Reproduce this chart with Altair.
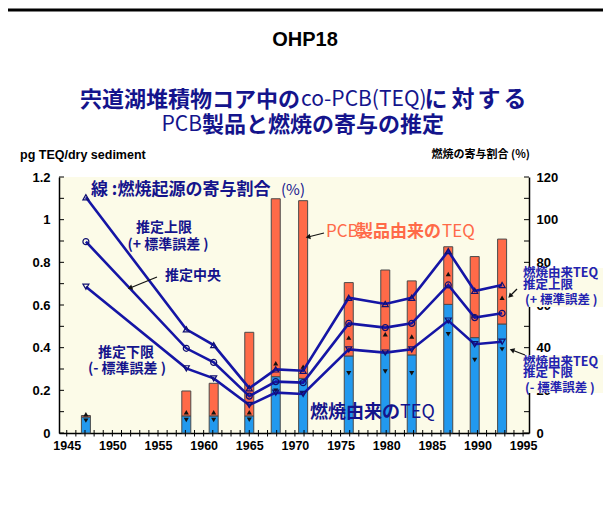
import altair as alt
import pandas as pd

# ---------------- data ----------------
years = [1947.1, 1958.1, 1961.1, 1965.0, 1967.9, 1970.9, 1975.9, 1979.9, 1982.8, 1986.8, 1989.7, 1992.7]
total_teq = [0.082, 0.197, 0.233, 0.472, 1.098, 1.089, 0.705, 0.764, 0.713, 0.873, 0.827, 0.909]
comb_teq = [0.075, 0.080, 0.080, 0.080, 0.264, 0.256, 0.361, 0.377, 0.366, 0.603, 0.447, 0.511]
comb_hi = [0.088, 0.097, 0.097, 0.097, 0.327, 0.311, 0.447, 0.463, 0.452, 0.745, 0.549, 0.634]
comb_lo = [0.058, 0.061, 0.061, 0.062, 0.198, 0.183, 0.280, 0.288, 0.280, 0.463, 0.342, 0.392]
pct_upper = [110.5, 48.6, 41.2, 21.0, 29.8, 29.2, 63.4, 60.5, 63.4, 85.3, 66.6, 69.4]
pct_mid = [89.7, 39.7, 33.1, 17.3, 24.1, 23.6, 51.4, 49.4, 51.4, 69.4, 54.1, 56.1]
pct_lower = [68.6, 30.3, 25.6, 13.1, 18.9, 18.3, 39.2, 37.7, 39.2, 52.7, 41.6, 42.8]

x_labels = [1945, 1950, 1955, 1960, 1965, 1970, 1975, 1980, 1985, 1990, 1995]
year_ticks = list(range(1945, 1996))
left_labels = [0, 0.2, 0.4, 0.6, 0.8, 1.0, 1.2]
left_ticks = [0, 0.1, 0.2, 0.3, 0.4, 0.5, 0.6, 0.7, 0.8, 0.9, 1.0, 1.1, 1.2]
right_labels = [0, 20, 40, 60, 80, 100, 120]
right_ticks = [0, 10, 20, 30, 40, 50, 60, 70, 80, 90, 100, 110, 120]

# ---------------- styles ----------------
BLUE = "#2299EE"
RED = "#FF6A48"
BAR_EDGE = "#4a4a4a"
LINE = "#1515A5"
NAVY = "#14148C"
BOXTXT = "#2222B0"
PLOT_BG = "#FCFBE8"
JP = "Noto Sans CJK JP"
LAT = "Liberation Sans"

bars = pd.DataFrame({"year": years, "total": total_teq, "comb": comb_teq,
                     "hi": comb_hi, "lo": comb_lo, "zero": [0] * len(years)})
pct = pd.DataFrame({"year": years, "upper": pct_upper, "mid": pct_mid, "lower": pct_lower})
dummy = pd.DataFrame({"a": [0]})

xs = alt.Scale(domain=[1944.7, 1995.1], nice=False, zero=False)
ysL = alt.Scale(domain=[0, 1.2], nice=False)
ysR = alt.Scale(domain=[0, 120], nice=False)

xaxis = alt.Axis(values=x_labels, format="d", title=None, labelPadding=6, labelFontSize=12.5)
yaxisL = alt.Axis(values=left_labels, format="~g", title=None, labelPadding=9, orient="left")
yaxisR = alt.Axis(values=right_labels, format="d", title=None, labelPadding=7, orient="right")

X = alt.X("year:Q", scale=xs, axis=xaxis)

# ---------------- left (TEQ) group ----------------
blue_bar = alt.Chart(bars).mark_bar(size=9, color=BLUE, stroke=BAR_EDGE, strokeWidth=1).encode(
    x=X, y=alt.Y("zero:Q", scale=ysL, axis=yaxisL), y2="comb:Q")
red_bar = alt.Chart(bars).mark_bar(size=9, color=RED, stroke=BAR_EDGE, strokeWidth=1).encode(
    x=X, y=alt.Y("comb:Q", scale=ysL, axis=yaxisL), y2="total:Q")
hi_pts = alt.Chart(bars).mark_point(shape="triangle-up", filled=True, size=26, color="#111111", opacity=1).encode(
    x=X, y=alt.Y("hi:Q", scale=ysL, axis=yaxisL))
lo_pts = alt.Chart(bars).mark_point(shape="triangle-down", filled=True, size=26, color="#111111", opacity=1).encode(
    x=X, y=alt.Y("lo:Q", scale=ysL, axis=yaxisL))
lt = alt.Chart(pd.DataFrame({"v": left_ticks})).mark_rule(color="black", strokeWidth=1).encode(
    y=alt.Y("v:Q", scale=ysL, axis=yaxisL), x=alt.value(0), x2=alt.value(5))
left_group = alt.layer(blue_bar, red_bar, hi_pts, lo_pts, lt)

# ---------------- right (percentage) group ----------------
def pline(field, shape):
    ln = alt.Chart(pct).mark_line(color=LINE, strokeWidth=2.6).encode(
        x=X, y=alt.Y(f"{field}:Q", scale=ysR, axis=yaxisR))
    pt = alt.Chart(pct).mark_point(shape=shape, filled=False, size=36, stroke="#101070",
                                   strokeWidth=1.2, opacity=1).encode(
        x=X, y=alt.Y(f"{field}:Q", scale=ysR, axis=yaxisR))
    return [ln, pt]

rt = alt.Chart(pd.DataFrame({"v": right_ticks})).mark_rule(color="black", strokeWidth=1).encode(
    y=alt.Y("v:Q", scale=ysR, axis=yaxisR), x=alt.value(465), x2=alt.value(470))
right_group = alt.layer(*pline("upper", "triangle-up"), *pline("mid", "circle"),
                        *pline("lower", "triangle-down"), rt)

# ---------------- annotations ----------------
xt = alt.Chart(pd.DataFrame({"year": year_ticks})).mark_rule(color="black", strokeWidth=1).encode(
    x=X, y=alt.value(253), y2=alt.value(259.5))


def txt(s, x, y, size, color, weight="bold", align="left", font=JP):
    return alt.Chart(dummy).mark_text(text=s, fontSize=size, color=color, fontWeight=weight,
                                      align=align, baseline="middle", font=font).encode(
        x=alt.value(x), y=alt.value(y))


def box(x1, x2, y1, y2):
    return alt.Chart(dummy).mark_rect(color=PLOT_BG).encode(
        x=alt.value(x1), x2=alt.value(x2), y=alt.value(y1), y2=alt.value(y2))


def arrow(x1, y1, x2, y2, ang, color="#111111"):
    ln = alt.Chart(dummy).mark_rule(color=color, strokeWidth=1.2).encode(
        x=alt.value(x1), x2=alt.value(x2), y=alt.value(y1), y2=alt.value(y2))
    hd = alt.Chart(dummy).mark_point(shape="triangle-up", angle=ang, filled=True, size=30,
                                     color=color, opacity=1).encode(x=alt.value(x2), y=alt.value(y2))
    return [ln, hd]


topline = alt.Chart(dummy).mark_rule(color="black", strokeWidth=3).encode(
    x=alt.value(-60), x2=alt.value(560), y=alt.value(-167))

annots = [
    xt, topline,
    txt("OHP18", 246, -137, 20, "black", font=LAT, align="center"),
    txt("宍道湖堆積物コア中の", 241, -77, 22, NAVY, align="right"),
    txt("co-PCB(TEQ)", 242, -77, 21, NAVY, weight="normal"),
    txt("に", 377, -77, 23, NAVY, align="center"),
    txt("対", 404, -77, 23, NAVY, align="center"),
    txt("す", 430, -77, 23, NAVY, align="center"),
    txt("る", 456, -77, 23, NAVY, align="center"),
    txt("PCB", 143, -52, 21, NAVY, weight="normal", align="right"),
    txt("製品と燃焼の寄与の推定", 143, -52, 22, NAVY),
    txt("pg TEQ/dry sediment", -39, -22, 12.5, "black", font=LAT),
    txt("燃焼の寄与割合 (%)", 471, -22, 11, "black", align="right"),
    # inside the plot
    txt("線 :燃焼起源の寄与割合", 32, 13, 17, NAVY),
    txt("(%)", 222, 13, 15, NAVY, weight="normal"),
    txt("推定上限", 105, 51, 14, NAVY, align="center"),
    txt("(+ 標準誤差 )", 109, 68, 14, NAVY, align="center"),
    txt("推定中央", 134, 99, 14, NAVY, align="center"),
    *arrow(98, 100, 71, 111, 248.6),
    txt("推定下限", 67, 176, 14, NAVY, align="center"),
    txt("(- 標準誤差 )", 68, 192, 14, NAVY, align="center"),
    txt("PCB", 267, 55, 17, RED, weight="normal"),
    txt("製品由来の", 297, 55, 17, RED),
    txt("TEQ", 383, 55, 17, RED, weight="normal"),
    *arrow(265, 56, 249, 60, 257.5),
    txt("燃焼由来の", 251, 236, 18, NAVY),
    txt("TEQ", 341, 236, 18, NAVY, weight="normal"),
    # right boxes
    box(461, 548, 91, 130),
    txt("燃焼由来TEQ", 464, 96, 12.5, BOXTXT),
    txt("推定上限", 464, 108, 12.5, BOXTXT),
    txt("(+ 標準誤差 )", 466, 123, 12.5, BOXTXT),
    *arrow(458, 112, 451, 119, 225),
    box(461, 548, 178, 216),
    txt("燃焼由来TEQ", 464, 185, 12.5, BOXTXT),
    txt("推定下限", 464, 196, 12.5, BOXTXT),
    txt("(- 標準誤差 )", 466, 211, 12.5, BOXTXT),
    *arrow(466, 178, 453, 173, 289.7),
]
annot_group = alt.layer(*annots)

chart = alt.layer(left_group, right_group, annot_group).resolve_scale(y="independent").properties(
    width=470, height=256,
    autosize=alt.AutoSizeParams(type="none"),
    padding={"left": 51, "top": 169, "right": 74, "bottom": 65},
    background="white",
).configure_view(fill=PLOT_BG, strokeWidth=0).configure_axis(
    labelFont=LAT, labelFontWeight="bold", labelFontSize=13, labelColor="black",
    domainColor="black", domainWidth=1.5, grid=False, ticks=False,
)

chart.save("out.html", embed_options={"renderer": "svg", "actions": False})
